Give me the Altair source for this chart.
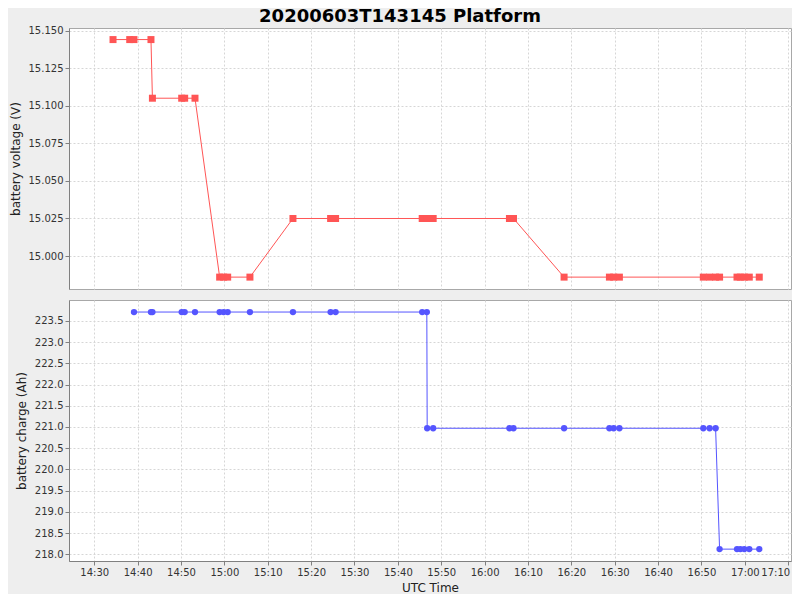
import altair as alt
import pandas as pd

FONT = "DejaVu Sans"
DAY = "2020-06-03T"

# sample times (UTC) of battery voltage readings
volt_times = [
    "14:34:20", "14:38:11", "14:39:10", "14:43:05", "14:43:25", "14:50:10",
    "14:50:51", "14:53:14", "14:58:55", "14:59:50", "15:00:46", "15:05:54",
    "15:15:49", "15:24:30", "15:25:39", "15:45:37", "15:46:41", "15:46:46",
    "15:48:09", "16:05:44", "16:06:40", "16:18:20", "16:28:47", "16:29:46",
    "16:31:05", "16:50:26", "16:51:53", "16:53:16", "16:54:11", "16:58:12",
    "16:58:58", "16:59:53", "17:01:02", "17:03:20",
]
voltage = [
    15.144, 15.144, 15.144, 15.144,
    15.105, 15.105, 15.105, 15.105,
    14.986, 14.986, 14.986, 14.986,
    15.025, 15.025, 15.025, 15.025, 15.025, 15.025, 15.025, 15.025, 15.025,
    14.986, 14.986, 14.986, 14.986, 14.986, 14.986, 14.986, 14.986,
    14.986, 14.986, 14.986, 14.986, 14.986,
]

charge_times = [
    "14:39:10", "14:43:05", "14:43:25", "14:50:10", "14:50:51", "14:53:14",
    "14:58:55", "14:59:50", "15:00:46", "15:05:54", "15:15:49", "15:24:30",
    "15:25:39", "15:45:37", "15:46:41", "15:46:46", "15:48:09", "16:05:44",
    "16:06:40", "16:18:20", "16:28:47", "16:29:46", "16:31:05", "16:50:26",
    "16:51:53", "16:53:16", "16:54:11", "16:58:12", "16:58:58", "16:59:53",
    "17:01:02", "17:03:20",
]
charge = [
    223.71, 223.71, 223.71, 223.71, 223.71, 223.71, 223.71, 223.71,
    223.71, 223.71, 223.71, 223.71, 223.71, 223.71, 223.71,
    220.97, 220.97, 220.97, 220.97, 220.97, 220.97, 220.97, 220.97,
    220.97, 220.97, 220.97,
    218.12, 218.12, 218.12, 218.12, 218.12, 218.12,
]

volt_ticks = [15.000, 15.025, 15.050, 15.075, 15.100, 15.125, 15.150]
charge_ticks = [218.0, 218.5, 219.0, 219.5, 220.0, 220.5, 221.0, 221.5,
                222.0, 222.5, 223.0, 223.5]
time_ticks = ["14:30", "14:40", "14:50", "15:00", "15:10", "15:20", "15:30",
              "15:40", "15:50", "16:00", "16:10", "16:20", "16:30", "16:40",
              "16:50", "17:00", "17:10"]
x_range = ["14:24:11", "17:10:39"]


def ms(t):
    if len(t) == 5:
        t = t + ":00"
    return int(pd.Timestamp(DAY + t, tz="UTC").value // 10**6)


df_v = pd.DataFrame({"t": [ms(t) for t in volt_times], "v": voltage})
df_c = pd.DataFrame({"t": [ms(t) for t in charge_times], "c": charge})

x_scale = alt.Scale(type="utc", domain=[ms(t) for t in x_range], nice=False)
x_values = [ms(t) for t in time_ticks]

grid = dict(grid=True, gridColor="#d6d6d6", gridDash=[2, 2], gridWidth=1)
yaxis_common = dict(
    tickSize=4, tickColor="#808080", domainColor="#808080", labelColor="#333333",
    labelFont=FONT, labelFontSize=10, titleFont=FONT, titleFontSize=12,
    titleFontWeight="normal", titleColor="#222222", labelPadding=2,
    titlePadding=6, **grid,
)

W, H = 722, 261
RED = "#ff5555"
BLUE = "#5555ff"

x_top = alt.X("t:T", scale=x_scale, axis=alt.Axis(
    values=x_values, labels=False, ticks=False, domain=False, title=None, **grid))
y_top = alt.Y("v:Q", scale=alt.Scale(domain=[14.9781, 15.1517], nice=False, zero=False),
              axis=alt.Axis(values=volt_ticks, format=".3f",
                            title="battery voltage (V)", **yaxis_common))
base_v = alt.Chart(df_v).encode(x=x_top, y=y_top)
top = alt.layer(
    base_v.mark_line(color=RED, strokeWidth=1),
    base_v.mark_point(shape="square", filled=True, size=49, color=RED, opacity=1),
).properties(width=W, height=H)

x_bot = alt.X("t:T", scale=x_scale, axis=alt.Axis(
    values=x_values, format="%H:%M", title="UTC Time",
    tickSize=4, tickColor="#808080", domainColor="#808080", labelColor="#333333",
    labelFont=FONT, labelFontSize=10, titleFont=FONT, titleFontSize=12,
    titleFontWeight="normal", titleColor="#222222", labelPadding=2,
    titlePadding=5, labelFlush=5, labelFlushOffset=1.5, labelOverlap=False,
    **grid))
y_bot = alt.Y("c:Q", scale=alt.Scale(domain=[217.84, 223.994], nice=False, zero=False),
              axis=alt.Axis(values=charge_ticks, format=".1f",
                            title="battery charge (Ah)", **yaxis_common))
base_c = alt.Chart(df_c).encode(x=x_bot, y=y_bot)
bottom = alt.layer(
    base_c.mark_line(color=BLUE, strokeWidth=1),
    base_c.mark_point(shape="circle", filled=True, size=40, color=BLUE, opacity=1),
).properties(width=W, height=H)

chart = alt.vconcat(top, bottom, spacing=9).properties(
    title=alt.TitleParams("20200603T143145 Platform", font=FONT, fontSize=18,
                          fontWeight="bold", color="#000000", anchor="middle",
                          offset=-1),
    background="#eeeeee",
    padding={"left": 0, "top": 0, "right": 0, "bottom": 0},
).configure_view(stroke="#a8a8a8", fill="white")

chart.save("out.html", embed_options={"renderer": "svg", "actions": False})
